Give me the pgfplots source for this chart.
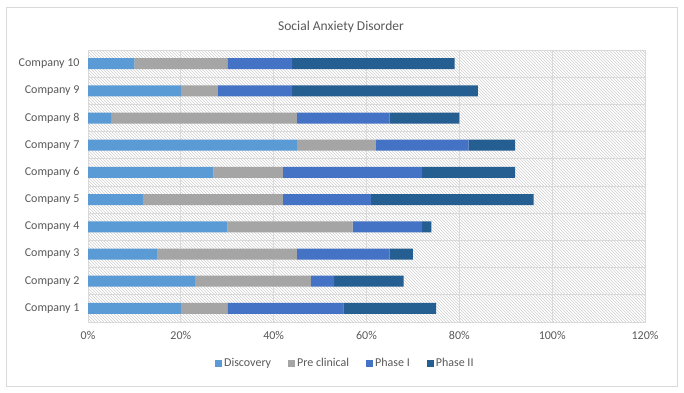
\documentclass[border=0pt]{standalone}
\usepackage{pgfplots}
\pgfplotsset{compat=1.18}
\usepackage{fontspec}
\setmainfont{Carlito}
\usetikzlibrary{patterns}
\definecolor{cDisc}{HTML}{5B9BD5}
\definecolor{cPre}{HTML}{A5A5A5}
\definecolor{cP1}{HTML}{4472C4}
\definecolor{cP2}{HTML}{255E91}
\definecolor{txt}{HTML}{595959}
\definecolor{gridc}{HTML}{D9D9D9}
\definecolor{hatch}{HTML}{D0D0D0}
\begin{document}
\begin{tikzpicture}[x=1pt,y=1pt]
\path[use as bounding box, fill=white] (0,0) rectangle (684,392);
\draw[gridc, line width=0.8pt] (6,6) rectangle (677,385);
\node[text=txt, font=\fontsize{13.5}{16}\selectfont] at (341,365) {Social Anxiety Disorder};
\begin{axis}[
  at={(88pt,70pt)}, anchor=south west,
  scale only axis, width=557pt, height=272pt,
  xbar stacked, bar width=11pt,
  xmin=0, xmax=120, ymin=0.5, ymax=10.5,
  xtick={0,20,40,60,80,100,120},
  xticklabels={0\%,20\%,40\%,60\%,80\%,100\%,120\%},
  ytick={1,...,10},
  yticklabels={Company 1,Company 2,Company 3,Company 4,Company 5,Company 6,Company 7,Company 8,Company 9,Company 10},
  minor ytick={0.5,1.5,...,10.5},
  xmajorgrids, yminorgrids,
  major grid style={gridc, line width=0.8pt},
  minor grid style={gridc, line width=0.8pt},
  major tick length=0pt, minor tick length=0pt,
  axis line style={gridc, line width=0.8pt},
  tick label style={text=txt, font=\fontsize{12}{14}\selectfont},
  xticklabel style={yshift=-6pt},
  yticklabel style={xshift=-5pt},
  axis background/.style={pattern=north west lines, pattern color=hatch},
  legend columns=4,
  legend style={at={(0.462,-0.151)}, anchor=center, draw=none, fill=none,
    font=\fontsize{12}{14}\selectfont, text=txt,
    /tikz/every even column/.append style={column sep=15pt}},
  legend image code/.code={\fill[#1, draw=none] (0pt,-3.5pt) rectangle (7pt,3.5pt);},
]
\addplot[fill=cDisc, draw=none] coordinates {(20,1) (23,2) (15,3) (30,4) (12,5) (27,6) (45,7) (5,8) (20,9) (10,10)};
\addplot[fill=cPre, draw=none] coordinates {(10,1) (25,2) (30,3) (27,4) (30,5) (15,6) (17,7) (40,8) (8,9) (20,10)};
\addplot[fill=cP1, draw=none] coordinates {(25,1) (5,2) (20,3) (15,4) (19,5) (30,6) (20,7) (20,8) (16,9) (14,10)};
\addplot[fill=cP2, draw=none] coordinates {(20,1) (15,2) (5,3) (2,4) (35,5) (20,6) (10,7) (15,8) (40,9) (35,10)};
\legend{Discovery, Pre clinical, Phase I, Phase II}
\end{axis}
\end{tikzpicture}
\end{document}
